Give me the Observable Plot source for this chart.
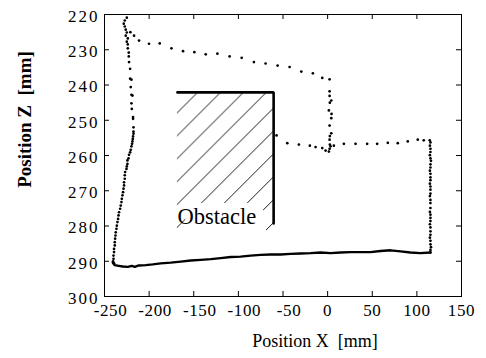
<!DOCTYPE html>
<html><head><meta charset="utf-8">
<script src="https://cdn.jsdelivr.net/npm/d3@7"></script>
<script src="https://cdn.jsdelivr.net/npm/@observablehq/plot@0.6"></script>
<style>html,body{margin:0;padding:0;background:#fff;} #chart svg{display:block;}</style>
</head><body><div id="chart"></div>
<script>
// ---- data (mm) ----
const xTicks = [-250, -200, -150, -100, -50, 0, 50, 100, 150];
const zTicks = [220, 230, 240, 250, 260, 270, 280, 290, 300];
const xLabel = "Position X\u00a0\u00a0[mm]";
const zLabel = "Position Z\u00a0\u00a0[mm]";
const obstacleLabel = "Obstacle";

const obstacleEdge = [[-168.3, 242.1], [-60.5, 242.1], [-60.5, 279.3]];
const obstacleArea = [{x1: -168.3, x2: -60.5, y1: 242.1, y2: 281.3}];
const labelBox = [{x1: -159, x2: -71.7, y1: 273.6, y2: 281.8}];
const labelAt = [[-168.3, 277.3]];

// left side, going down
const leftPath = [
  [-225.0,220.9],[-227.3,221.7],[-228.4,222.6],[-227.3,223.4],[-226.2,224.3],[-225.0,225.1],
  [-226.2,226.0],[-223.9,226.8],[-225.0,227.7],[-223.9,228.5],[-223.9,229.6],[-222.8,230.8],
  [-222.8,231.9],[-222.5,233.5],[-221.3,235.4],[-221.3,238.2],[-219.8,238.5],[-220.6,240.6],
  [-219.8,242.8],[-218.7,243.0],[-219.8,245.2],[-219.4,246.8],[-218.0,249.1],[-218.0,249.6],
  [-217.5,252.0],[-217.5,253.2],[-217.5,253.8],[-218.0,254.6],[-218.3,255.3],[-218.7,256.0],
  [-219.1,256.7],[-219.8,257.4],[-220.6,258.4],[-221.3,259.1],[-222.5,259.8],[-223.1,260.8],
  [-224.3,261.4],[-224.3,262.4],[-225.0,263.1],[-225.4,263.8],
  [-226.9,264.7],[-227.3,265.6],[-227.3,266.6],[-228.1,267.6],[-228.1,268.5],[-228.7,269.4],
  [-229.2,270.4],[-229.9,271.3],[-230.6,272.3],[-231.0,273.2],[-231.8,274.2],[-232.5,275.1],
  [-233.7,276.1],[-234.3,277.0],[-234.8,278.0],[-235.5,278.9],[-236.2,279.9],[-236.6,280.8],
  [-237.4,281.8],[-237.7,282.7],[-238.1,283.6],[-238.5,284.6],[-238.5,285.5],[-239.3,286.5],
  [-239.3,287.4],[-239.9,288.4],[-239.9,289.3],[-240.4,290.0],[-239.3,290.6]
];
// top, from the start cluster to x = 0
const topPath = [
  [-221.0,225.0],[-216.9,226.0],[-211.3,227.4],[-200.1,228.3],[-188.1,228.2],[-175.0,229.6],
  [-162.0,230.4],[-149.3,230.7],[-136.6,231.3],[-123.5,231.1],[-109.8,231.9],[-96.3,232.3],
  [-82.6,233.5],[-69.5,233.9],[-56.0,234.5],[-42.6,234.9],[-29.5,236.2],[-16.5,236.7],
  [-6.0,238.0],[2.2,238.4]
];
// down along x = 0
const dropPath = [
  [2.2,241.8],[2.2,243.1],[4.1,244.4],[2.5,245.0],[1.4,247.2],[4.4,248.2],[4.1,249.4],
  [2.2,251.5],[4.1,253.7],[2.5,254.5],[2.2,255.5],[2.5,256.9],[3.3,257.4],[2.2,258.1],[1.4,258.9]
];
// middle, from the obstacle corner to the right
const midPath = [
  [-57.2,254.3],[-45.2,256.5],[-32.2,256.9],[-19.9,257.2],[-13.5,257.6],[-6.0,257.9],
  [-2.3,258.6],[7.0,257.2],[18.2,256.7],[31.3,256.7],[44.3,256.7],[55.5,256.7],[67.4,256.4],
  [78.6,256.5],[89.8,256.0],[101.0,255.5],[107.7,255.7],[114.4,255.7]
];
// right side, going down
const rightPath = [
  [115.2,256.3],[114.6,257.2],[115.2,258.1],[115.2,259.0],[114.6,259.9],[115.2,260.8],
  [115.8,261.5],[115.2,262.5],[115.2,263.4],[114.6,264.3],[115.2,265.2],[115.2,266.2],
  [115.2,267.0],[114.6,268.0],[115.2,268.8],[115.2,269.7],[115.2,270.8],[114.6,271.5],
  [115.2,272.6],[115.2,273.5],[115.2,274.9],[114.6,276.0],[115.2,276.8],[115.2,277.7],
  [115.2,278.6],[114.6,279.5],[115.2,280.4],[115.2,281.5],[115.2,282.5],[114.6,283.3],
  [115.2,284.2],[115.2,285.2],[115.8,286.0],[115.2,286.8],[115.2,287.5]
];
// bottom, dense return path
const bottomPath = [
  [-240.7,290.4],[-238.5,291.1],[-234.0,291.3],[-229.5,291.5],[-223.9,291.6],[-219.4,291.3],
  [-216.1,291.6],[-211.6,291.2],[-203.8,291.1],[-195.9,290.9],[-187.0,290.6],[-175.8,290.4],
  [-164.6,290.1],[-153.4,289.8],[-142.2,289.6],[-131.0,289.4],[-119.8,289.1],[-108.6,288.8],
  [-97.5,288.7],[-86.3,288.4],[-75.1,288.2],[-63.9,288.1],[-52.7,288.1],[-41.5,287.9],
  [-30.3,287.8],[-19.1,287.7],[-7.9,287.5],[3.3,287.7],[14.5,287.5],[25.7,287.4],
  [36.9,287.4],[48.1,287.4],[59.3,287.1],[70.5,286.9],[81.7,287.2],[92.8,287.5],
  [104.0,287.7],[115.2,287.5]
];

// ---- layout ----
const W = 486, H = 358;
const mL = 104, mR = 25, mT = 14, mB = 62;
const fw = W - mL - mR, fh = H - mT - mB;
const serif = "'Liberation Serif', 'Times New Roman', serif";
const dotted = [...leftPath, ...topPath, ...dropPath, ...midPath, ...rightPath];
const X = d => d[0], Y = d => d[1];
const xNeg = xTicks.filter(d => d < 0), xPos = xTicks.filter(d => d >= 0);

const chart = Plot.plot({
  width: W, height: H,
  marginLeft: mL, marginRight: mR, marginTop: mT, marginBottom: mB,
  style: {fontFamily: serif, background: "white", color: "black"},
  x: {domain: [-250, 150], axis: null},
  y: {domain: [300, 220], axis: null},
  marks: [
    Plot.rect(obstacleArea, {x1: "x1", x2: "x2", y1: "y1", y2: "y2", fill: "url(#hatch)"}),
    Plot.rect(labelBox, {x1: "x1", x2: "x2", y1: "y1", y2: "y2", fill: "white"}),
    Plot.line(obstacleEdge, {x: X, y: Y, stroke: "black", strokeWidth: 2.6, strokeLinejoin: "miter"}),
    Plot.text(labelAt, {x: X, y: Y, text: () => obstacleLabel, textAnchor: "start", lineAnchor: "middle", fontSize: 22.5, fill: "black"}),
    Plot.line(bottomPath, {x: X, y: Y, stroke: "black", strokeWidth: 2.4}),
    Plot.dot(dotted, {x: X, y: Y, r: 1.35, fill: "black", stroke: "none"}),
    Plot.frame({stroke: "black", strokeWidth: 1}),
    Plot.ruleX(xTicks, {x: d => d, insetTop: fh - 5, stroke: "black"}),
    Plot.ruleX(xTicks, {x: d => d, insetBottom: fh - 5, stroke: "black"}),
    Plot.ruleY(zTicks, {y: d => d, insetLeft: fw - 5, stroke: "black"}),
    Plot.ruleY(zTicks, {y: d => d, insetRight: fw - 5, stroke: "black"}),
    Plot.text(xNeg, {x: d => d, frameAnchor: "bottom", lineAnchor: "middle", textAnchor: "middle", dx: 6, dy: 13.6, text: d => String(d), fontSize: 17, fill: "black"}),
    Plot.text(xPos, {x: d => d, frameAnchor: "bottom", lineAnchor: "middle", textAnchor: "middle", dy: 13.6, text: d => String(d), fontSize: 17, fill: "black"}),
    Plot.text(zTicks, {y: d => d, frameAnchor: "left", lineAnchor: "middle", dx: -5, dy: 2, textAnchor: "end", text: d => String(d), fontSize: 17, fill: "black"}),
    Plot.text([xLabel], {frameAnchor: "bottom", lineAnchor: "middle", textAnchor: "middle", dx: 32, dy: 45, text: d => d, fontSize: 18, fill: "black"}),
    Plot.text([zLabel], {frameAnchor: "left", lineAnchor: "middle", textAnchor: "middle", dx: -80, dy: -36, rotate: -90, text: d => d, fontSize: 19, fontWeight: "bold", fill: "black"})
  ]
});

// hatch pattern for the obstacle
const w = 22.9;
const pat = d3.select(chart).insert("defs", ":first-child")
  .append("pattern")
  .attr("id", "hatch").attr("patternUnits", "userSpaceOnUse")
  .attr("x", 15.2).attr("y", 0).attr("width", w).attr("height", w);
pat.append("path")
  .attr("d", `M-2,2L2,-2M0,${w}L${w},0M${w-2},${w+2}L${w+2},${w-2}`)
  .attr("stroke", "black").attr("stroke-width", 0.9).attr("fill", "none");

// tick-label spacing as in the reference
const tg = chart.querySelectorAll('g[aria-label="text"]');
if (tg[1]) tg[1].setAttribute("letter-spacing", "0.6");
if (tg[2]) tg[2].setAttribute("letter-spacing", "0.6");
if (tg[3]) tg[3].setAttribute("letter-spacing", "2");

document.getElementById("chart").appendChild(chart);
</script>
</body></html>
